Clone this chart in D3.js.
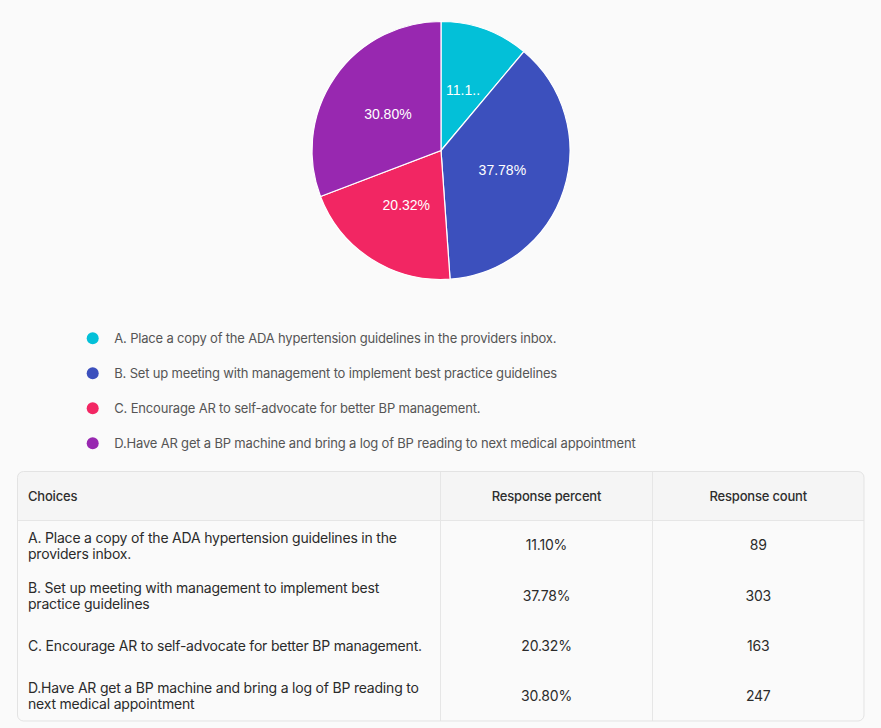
<!DOCTYPE html>
<html>
<head>
<meta charset="utf-8">
<script src="https://cdn.jsdelivr.net/npm/d3@7"></script>
<style>
  html, body { margin: 0; padding: 0; background: #fafafa; }
  svg { display: block; }
</style>
</head>
<body>
<svg id="chart" width="881" height="728"></svg>
<script>
// ---- data ----
const categories = [
  "A. Place a copy of the ADA hypertension guidelines in the providers inbox.",
  "B. Set up meeting with management to implement best practice guidelines",
  "C. Encourage AR to self-advocate for better BP management.",
  "D.Have AR get a BP machine and bring a log of BP reading to next medical appointment"
];
const percents = [11.10, 37.78, 20.32, 30.80];
const counts = [89, 303, 163, 247];
const colors = ["#03c0d8", "#3c50bd", "#f22663", "#9828b0"];
const headers = ["Choices", "Response percent", "Response count"];

const svg = d3.select("#chart");
const W = 881, H = 728;
svg.append("rect").attr("width", W).attr("height", H).attr("fill", "#fafafa");

// ---- pie ----
const cx = 441, cy = 150.5, R = 129;
const pie = d3.pie().sort(null).value(d => d);
const arcs = pie(percents);
const arc = d3.arc().innerRadius(0).outerRadius(R);
const gPie = svg.append("g").attr("transform", `translate(${cx},${cy})`);
gPie.selectAll("path").data(arcs).join("path")
  .attr("d", arc)
  .attr("fill", (d, i) => colors[i])
  .attr("stroke", "#ffffff")
  .attr("stroke-width", 1.2);

const labelFont = "'Liberation Sans', Arial, sans-serif";
gPie.selectAll("text").data(arcs).join("text")
  .attr("transform", d => `translate(${arc.centroid(d)})`)
  .attr("text-anchor", "middle")
  .attr("dy", "0.35em")
  .attr("fill", "#ffffff")
  .style("font-family", labelFont)
  .style("font-size", "14px")
  .text(d => d.value.toFixed(2) + "%")
  .each(function (d) {
    const avail = 2 * (R / 2) * Math.sin((d.endAngle - d.startAngle) / 2);
    const el = d3.select(this);
    let full = d.value.toFixed(2) + "%";
    if (this.getComputedTextLength() > avail) {
      let s = full;
      while (s.length > 1) {
        s = s.slice(0, -1);
        el.text(s + "..");
        if (this.getComputedTextLength() <= avail - 6) break;
      }
    }
  });

// ---- legend ----
const font = "Inter, 'Noto Sans', sans-serif";
const legendY = d3.scalePoint().domain(d3.range(categories.length)).range([338.3, 443.3]);
const gLeg = svg.append("g");
const items = gLeg.selectAll("g").data(categories).join("g")
  .attr("transform", (d, i) => `translate(0,${legendY(i)})`);
items.append("circle").attr("cx", 92.7).attr("cy", 0).attr("r", 6)
  .attr("fill", (d, i) => colors[i]);
items.append("text").attr("x", 114.3).attr("dy", "0.35em")
  .style("font-family", font).style("font-size", "13px")
  .style("letter-spacing", "-0.18px")
  .attr("fill", "#555555")
  .text(d => d);

// ---- table ----
const tX = 17.5, tY = 471.5, tW = 846.5, tH = 249.5, headH = 49;
const colX = [tX, 440.5, 652.5, tX + tW];
const rowY = d3.scaleBand().domain(d3.range(categories.length)).range([tY + headH, tY + tH]);
const gT = svg.append("g");
svg.append("defs").append("clipPath").attr("id", "tclip")
  .append("rect").attr("x", tX).attr("y", tY).attr("width", tW).attr("height", tH).attr("rx", 6);
const inner = gT.append("g").attr("clip-path", "url(#tclip)");
inner.append("rect").attr("x", tX).attr("y", tY).attr("width", tW).attr("height", tH).attr("fill", "#fafafa");
inner.append("rect").attr("x", tX).attr("y", tY).attr("width", tW).attr("height", headH).attr("fill", "#f5f5f5");
inner.append("line").attr("x1", tX).attr("x2", tX + tW).attr("y1", tY + headH).attr("y2", tY + headH)
  .attr("stroke", "#e6e6e6");
[colX[1], colX[2]].forEach(x => {
  inner.append("line").attr("x1", x).attr("x2", x).attr("y1", tY).attr("y2", tY + tH).attr("stroke", "#e6e6e6");
});
gT.append("rect").attr("x", tX).attr("y", tY).attr("width", tW).attr("height", tH).attr("rx", 6)
  .attr("fill", "none").attr("stroke", "#e3e3e3");

// header
const headCy = tY + headH / 2;
function headText(x, anchor, s) {
  gT.append("text").attr("x", x).attr("y", headCy).attr("dy", "0.35em")
    .attr("text-anchor", anchor)
    .style("font-family", font).style("font-size", "13px").style("font-weight", 500)
    .style("letter-spacing", "-0.2px")
    .attr("fill", "#2e2e2e").text(s);
}
headText(tX + 10.5, "start", headers[0]);
headText((colX[1] + colX[2]) / 2, "middle", headers[1]);
headText((colX[2] + colX[3]) / 2, "middle", headers[2]);

function wrapLines(textSel, str, maxW) {
  const words = str.split(" ");
  const lines = [];
  let cur = "";
  const probe = textSel.append("tspan");
  words.forEach(w => {
    const test = cur ? cur + " " + w : w;
    probe.text(test);
    if (probe.node().getComputedTextLength() > maxW && cur) {
      lines.push(cur);
      cur = w;
    } else cur = test;
  });
  lines.push(cur);
  probe.remove();
  return lines;
}

const lineH = 16;
const bodyStyle = sel => sel.style("font-family", font).style("font-size", "14px")
  .style("letter-spacing", "-0.2px").attr("fill", "#2b2b2b");
categories.forEach((c, i) => {
  const cyRow = rowY(i) + rowY.bandwidth() / 2;
  const t = gT.append("text").call(bodyStyle);
  const lines = wrapLines(t, c, 399);
  const y0 = cyRow - (lines.length - 1) * lineH / 2 + 0.5;
  lines.forEach((ln, k) => {
    t.append("tspan").attr("x", tX + 10.5).attr("y", y0 + k * lineH).attr("dy", "0.35em").text(ln);
  });
  gT.append("text").attr("x", (colX[1] + colX[2]) / 2).attr("y", cyRow).attr("dy", "0.35em")
    .attr("text-anchor", "middle").call(bodyStyle)
    .text(percents[i].toFixed(2) + "%");
  gT.append("text").attr("x", (colX[2] + colX[3]) / 2).attr("y", cyRow).attr("dy", "0.35em")
    .attr("text-anchor", "middle").call(bodyStyle)
    .text(counts[i]);
});
</script>
</body>
</html>
